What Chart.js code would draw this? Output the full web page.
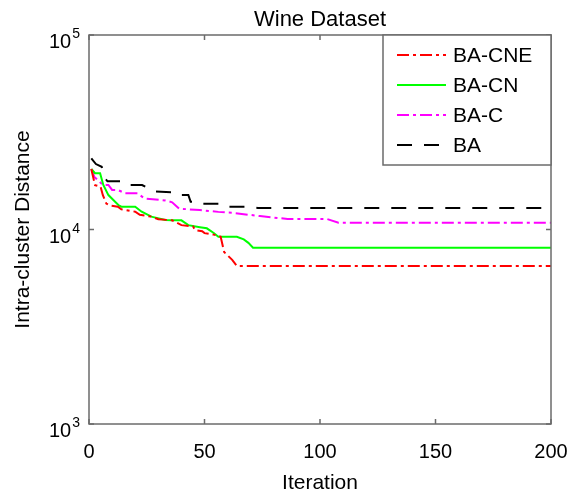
<!DOCTYPE html>
<html>
<head>
<meta charset="utf-8">
<script src="https://cdn.jsdelivr.net/npm/chart.js@4"></script>
<style>
  body { margin: 0; background: #fff; }
  #wrap { width: 573px; height: 495px; }
</style>
</head>
<body>
<div id="wrap"><canvas id="chart" width="573" height="495"></canvas></div>
<script>
'use strict';
// data (iteration, intra-cluster distance)
var chartTitle = 'Wine Dataset';
var seriesNames = ['BA-CNE', 'BA-CN', 'BA-C', 'BA'];
var xTicks = [0, 50, 100, 150, 200];
var yTicks = [1000, 10000, 100000];

var cneIter = [1, 2.6, 5, 6, 7.5, 9, 12.5, 14, 20, 22, 27, 30, 36, 40, 45, 46, 49, 50, 54, 57, 58.5, 62, 64, 200];
var cneVals = [20470, 16900, 16600, 15000, 13600, 13300, 13100, 12700, 12350, 11900, 11650, 11300, 11150, 10530, 10380, 9920, 9800, 9580, 9410, 9180, 7660, 6980, 6490, 6490];

var cnIter = [1, 2.6, 4.8, 6.2, 8.4, 12.7, 14, 20, 22.8, 27, 33, 36, 40, 43, 48, 51, 54, 56, 64, 67, 69, 71, 200];
var cnVals = [20470, 19460, 19460, 16940, 15030, 13360, 13100, 13100, 12350, 11650, 11200, 11150, 11150, 10530, 10280, 10140, 9600, 9180, 9180, 8890, 8540, 8060, 8060];

var cIter = [1, 2.3, 6, 8.4, 10, 12.5, 15.6, 21, 24, 33, 36, 39, 48, 56, 62, 74, 86, 103, 108, 200];
var cVals = [20470, 18650, 16940, 16940, 15970, 15970, 15350, 15350, 14450, 14100, 13800, 12800, 12580, 12320, 12180, 11720, 11320, 11320, 10830, 10830];

var baIter = [1, 3, 5.5, 7, 8, 16, 18, 23, 28, 38, 39, 43, 44, 48, 49, 56, 58, 71, 73, 200];
var baVals = [23200, 21700, 21000, 18300, 17700, 17700, 16930, 16930, 15700, 15500, 15040, 15040, 13870, 13870, 13580, 13580, 13100, 13100, 12900, 12900];

function toPoints(xs, ys) {
  var pts = [];
  for (var i = 0; i < xs.length; i++) {
    pts.push({x: xs[i], y: ys[i]});
  }
  return pts;
}

var axisColor = '#6b6b6b';
var fontFamily = '"Liberation Sans", Arial, sans-serif';

// box round the plot, inward ticks, the 10^n labels and the title
var boxPlugin = {
  id: 'boxPlugin',
  afterDatasetsDraw: function(chart) {
    var ctx = chart.ctx;
    var a = chart.chartArea;
    var xs = chart.scales.x;
    var ys = chart.scales.y;
    ctx.save();
    ctx.strokeStyle = axisColor;
    ctx.lineWidth = 1.5;
    ctx.setLineDash([]);
    ctx.strokeRect(a.left, a.top, a.right - a.left, a.bottom - a.top);
    ctx.beginPath();
    xTicks.forEach(function(t) {
      var px = xs.getPixelForValue(t);
      ctx.moveTo(px, a.bottom); ctx.lineTo(px, a.bottom - 5);
      ctx.moveTo(px, a.top); ctx.lineTo(px, a.top + 5);
    });
    yTicks.forEach(function(t) {
      var py = ys.getPixelForValue(t);
      ctx.moveTo(a.left, py); ctx.lineTo(a.left + 5, py);
      ctx.moveTo(a.right, py); ctx.lineTo(a.right - 5, py);
    });
    ctx.stroke();

    // y tick labels as 10 with a raised exponent
    ctx.fillStyle = '#000';
    ctx.textBaseline = 'alphabetic';
    ctx.textAlign = 'right';
    yTicks.forEach(function(t) {
      var py = ys.getPixelForValue(t);
      var e = String(Math.round(Math.log10(t)));
      ctx.font = '14px ' + fontFamily;
      ctx.fillText(e, a.left - 9, py + 3);
      var ew = ctx.measureText(e).width;
      ctx.font = '20px ' + fontFamily;
      ctx.fillText('10', a.left - 9 - ew - 1, py + 13);
    });

    // title centred over the plot
    ctx.textAlign = 'center';
    ctx.textBaseline = 'middle';
    ctx.font = '22px ' + fontFamily;
    ctx.fillText(chartTitle, (a.left + a.right) / 2, 20);
    ctx.restore();
  }
};

// legend drawn in the top right corner of the plot
var legendPlugin = {
  id: 'legendPlugin',
  afterDraw: function(chart) {
    var ctx = chart.ctx;
    var a = chart.chartArea;
    var left = a.right - 168;
    var top = a.top;
    var h = 130;
    ctx.save();
    ctx.fillStyle = '#fff';
    ctx.fillRect(left, top, a.right - left, h);
    ctx.strokeStyle = axisColor;
    ctx.lineWidth = 1.5;
    ctx.strokeRect(left, top, a.right - left, h);
    ctx.font = '21px ' + fontFamily;
    ctx.textBaseline = 'middle';
    chart.data.datasets.forEach(function(ds, i) {
      var y = top + 20 + i * 30;
      ctx.strokeStyle = ds.borderColor;
      ctx.lineWidth = 2;
      ctx.setLineDash(ds.borderDash || []);
      ctx.beginPath();
      ctx.moveTo(left + 14, y);
      ctx.lineTo(left + 63, y);
      ctx.stroke();
      ctx.setLineDash([]);
      ctx.fillStyle = '#000';
      ctx.fillText(ds.label, left + 70, y + 1);
    });
    ctx.restore();
  }
};

var ctx = document.getElementById('chart').getContext('2d');
var chart = new Chart(ctx, {
  type: 'line',
  data: {
    datasets: [
      {label: seriesNames[0], data: toPoints(cneIter, cneVals), borderColor: '#ff0000', borderDash: [12, 4, 3, 4]},
      {label: seriesNames[1], data: toPoints(cnIter, cnVals), borderColor: '#00ff00'},
      {label: seriesNames[2], data: toPoints(cIter, cVals), borderColor: '#ff00ff', borderDash: [12, 4, 3, 4]},
      {label: seriesNames[3], data: toPoints(baIter, baVals), borderColor: '#000000', borderDash: [15, 12]}
    ]
  },
  options: {
    responsive: false,
    animation: false,
    devicePixelRatio: 1,
    layout: {padding: {left: 0, right: 22, top: 35, bottom: 0}},
    elements: {
      point: {radius: 0},
      line: {borderWidth: 2, tension: 0, fill: false}
    },
    plugins: {
      legend: {display: false},
      tooltip: {enabled: false},
      title: {display: false}
    },
    scales: {
      x: {
        type: 'linear',
        min: 0,
        max: 200,
        grid: {display: false},
        border: {display: false},
        afterBuildTicks: function(scale) {
          scale.ticks = xTicks.map(function(v) { return {value: v}; });
        },
        afterFit: function(scale) {
          scale.height = 71;
          scale.paddingLeft = 0;
          scale.paddingRight = 0;
        },
        ticks: {
          color: '#000',
          font: {family: fontFamily, size: 20},
          padding: 8,
          maxRotation: 0
        },
        title: {
          display: true,
          text: 'Iteration',
          color: '#000',
          font: {family: fontFamily, size: 21, lineHeight: 1.1},
          padding: {top: 4, bottom: 0}
        }
      },
      y: {
        type: 'logarithmic',
        min: 1000,
        max: 100000,
        grid: {display: false},
        border: {display: false},
        afterBuildTicks: function(scale) {
          scale.ticks = yTicks.map(function(v) { return {value: v, major: true}; });
        },
        afterFit: function(scale) {
          scale.width = 89;
        },
        ticks: {display: false},
        title: {
          display: true,
          text: 'Intra-cluster Distance',
          color: '#000',
          font: {family: fontFamily, size: 21},
          padding: {top: 11, bottom: 0}
        }
      }
    }
  },
  plugins: [boxPlugin, legendPlugin]
});
</script>
</body>
</html>
